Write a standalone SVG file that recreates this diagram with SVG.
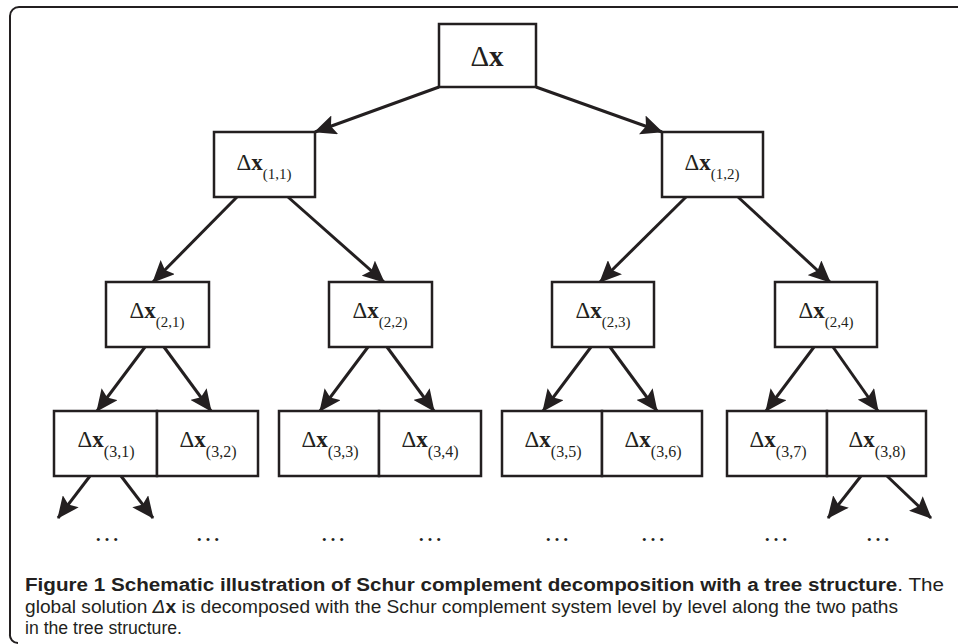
<svg xmlns="http://www.w3.org/2000/svg" width="958" height="644" viewBox="0 0 958 644">
<defs>
<style>
.box{fill:#fff;stroke:#231f20;stroke-width:2.5}
.lbl{font-family:"Liberation Serif","Times New Roman",serif;fill:#231f20;text-anchor:middle}
.m1{font-size:29px}
.m{font-size:23px}
.b{font-weight:bold}
.s{font-size:15px}
.s3{font-size:16px}
.edge{stroke:#231f20;stroke-width:3;fill:none;marker-end:url(#ah)}
.dots{font-family:"Liberation Serif",serif;font-size:26px;fill:#231f20;text-anchor:middle}
.cap{font-family:"Liberation Sans",Arial,sans-serif;font-size:17.5px;fill:#231f20}
</style>
<marker id="ah" markerUnits="userSpaceOnUse" markerWidth="22" markerHeight="20" viewBox="0 0 22 20" refX="21" refY="10" orient="auto">
<path d="M0,0 L22,10 L0,20 L4,10 Z" fill="#231f20"/>
</marker>
</defs>
<path d="M958,7 H19 A9,9 0 0 0 10,16 V634 A8,8 0 0 0 18,643" fill="none" stroke="#231f20" stroke-width="2"/>

<g id="connectors">
<line class="edge" x1="439" y1="87" x2="315" y2="132"/>
<line class="edge" x1="536" y1="87" x2="662" y2="132"/>
<line class="edge" x1="237" y1="197" x2="153" y2="282"/>
<line class="edge" x1="288" y1="197" x2="384" y2="282"/>
<line class="edge" x1="686" y1="197" x2="600" y2="282"/>
<line class="edge" x1="738" y1="197" x2="830" y2="282"/>
<line class="edge" x1="145" y1="347" x2="97" y2="411"/>
<line class="edge" x1="164" y1="347" x2="211" y2="411"/>
<line class="edge" x1="368" y1="347" x2="320" y2="411"/>
<line class="edge" x1="387" y1="347" x2="434" y2="411"/>
<line class="edge" x1="591" y1="347" x2="543" y2="411"/>
<line class="edge" x1="610" y1="347" x2="657" y2="411"/>
<line class="edge" x1="814" y1="347" x2="766" y2="411"/>
<line class="edge" x1="833" y1="347" x2="878" y2="411"/>
<line class="edge" x1="90" y1="476" x2="58" y2="518"/>
<line class="edge" x1="121" y1="476" x2="153" y2="518"/>
<line class="edge" x1="861" y1="476" x2="828" y2="518"/>
<line class="edge" x1="887" y1="476" x2="931" y2="518"/>
</g>

<g id="n0"><rect class="box" x="439" y="24" width="97" height="63"/><text class="lbl m1" x="487" y="66">Δ<tspan class="b">x</tspan></text></g>

<g id="n11"><rect class="box" x="214" y="132" width="101" height="65"/><text class="lbl m" x="264" y="170">Δ<tspan class="b">x</tspan><tspan class="s" dy="9">(1,1)</tspan></text></g>
<g id="n12"><rect class="box" x="662" y="132" width="101" height="65"/><text class="lbl m" x="712" y="170">Δ<tspan class="b">x</tspan><tspan class="s" dy="9">(1,2)</tspan></text></g>

<g id="n21"><rect class="box" x="106" y="282" width="103" height="65"/><text class="lbl m" x="157" y="318">Δ<tspan class="b">x</tspan><tspan class="s" dy="9">(2,1)</tspan></text></g>
<g id="n22"><rect class="box" x="329" y="282" width="103" height="65"/><text class="lbl m" x="380" y="318">Δ<tspan class="b">x</tspan><tspan class="s" dy="9">(2,2)</tspan></text></g>
<g id="n23"><rect class="box" x="552" y="282" width="102" height="65"/><text class="lbl m" x="603" y="318">Δ<tspan class="b">x</tspan><tspan class="s" dy="9">(2,3)</tspan></text></g>
<g id="n24"><rect class="box" x="775" y="282" width="102" height="65"/><text class="lbl m" x="826" y="318">Δ<tspan class="b">x</tspan><tspan class="s" dy="9">(2,4)</tspan></text></g>

<g id="n31"><rect class="box" x="54" y="411" width="103" height="65"/><text class="lbl m" x="106" y="447">Δ<tspan class="b">x</tspan><tspan class="s3" dy="10">(3,1)</tspan></text></g>
<g id="n32"><rect class="box" x="157" y="411" width="101" height="65"/><text class="lbl m" x="208" y="447">Δ<tspan class="b">x</tspan><tspan class="s3" dy="10">(3,2)</tspan></text></g>
<g id="n33"><rect class="box" x="279" y="411" width="100" height="65"/><text class="lbl m" x="330" y="447">Δ<tspan class="b">x</tspan><tspan class="s3" dy="10">(3,3)</tspan></text></g>
<g id="n34"><rect class="box" x="379" y="411" width="102" height="65"/><text class="lbl m" x="430" y="447">Δ<tspan class="b">x</tspan><tspan class="s3" dy="10">(3,4)</tspan></text></g>
<g id="n35"><rect class="box" x="502" y="411" width="100" height="65"/><text class="lbl m" x="553" y="447">Δ<tspan class="b">x</tspan><tspan class="s3" dy="10">(3,5)</tspan></text></g>
<g id="n36"><rect class="box" x="602" y="411" width="100" height="65"/><text class="lbl m" x="653" y="447">Δ<tspan class="b">x</tspan><tspan class="s3" dy="10">(3,6)</tspan></text></g>
<g id="n37"><rect class="box" x="727" y="411" width="100" height="65"/><text class="lbl m" x="778" y="447">Δ<tspan class="b">x</tspan><tspan class="s3" dy="10">(3,7)</tspan></text></g>
<g id="n38"><rect class="box" x="827" y="411" width="99" height="65"/><text class="lbl m" x="877" y="447">Δ<tspan class="b">x</tspan><tspan class="s3" dy="10">(3,8)</tspan></text></g>

<g id="ellipses">
<text class="dots" x="107" y="541">…</text>
<text class="dots" x="208" y="541">…</text>
<text class="dots" x="333" y="541">…</text>
<text class="dots" x="430" y="541">…</text>
<text class="dots" x="557" y="541">…</text>
<text class="dots" x="653" y="541">…</text>
<text class="dots" x="776" y="541">…</text>
<text class="dots" x="878" y="541">…</text>
</g>

<g id="caption">
<text class="cap" x="25" y="591" textLength="919" lengthAdjust="spacingAndGlyphs"><tspan font-weight="bold">Figure 1 Schematic illustration of Schur complement decomposition with a tree structure</tspan>. The</text>
<text class="cap" x="25" y="613" textLength="873" lengthAdjust="spacingAndGlyphs">global solution <tspan font-style="italic">Δ</tspan><tspan font-weight="bold">x</tspan> is decomposed with the Schur complement system level by level along the two paths</text>
<text class="cap" x="25" y="634" textLength="157" lengthAdjust="spacingAndGlyphs">in the tree structure.</text>
</g>
</svg>
